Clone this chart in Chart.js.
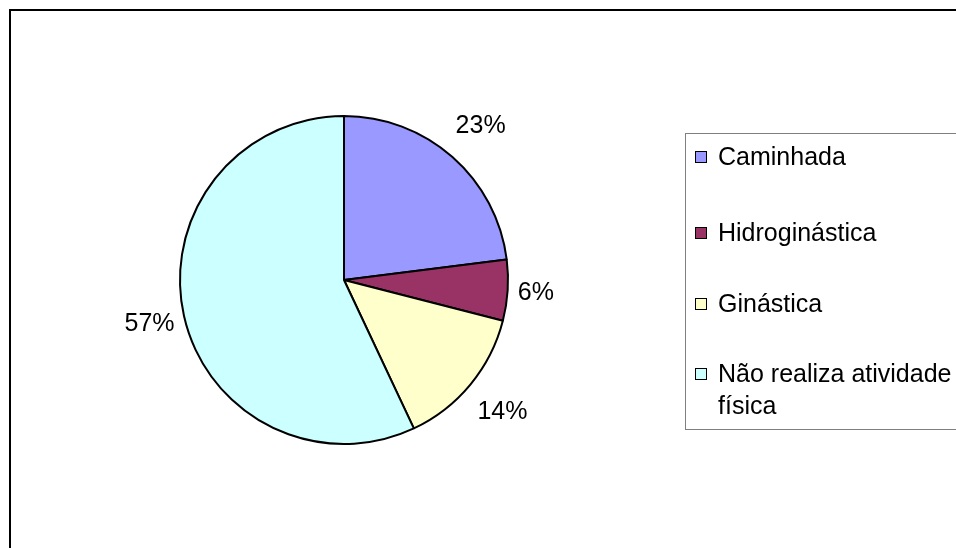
<!DOCTYPE html>
<html>
<head>
<meta charset="utf-8">
<script src="https://cdn.jsdelivr.net/npm/chart.js@4/dist/chart.umd.min.js"></script>
<style>
  html, body { margin: 0; padding: 0; background: #fff; overflow: hidden; }
  body { width: 956px; height: 548px; position: relative; font-family: "Liberation Sans", Arial, sans-serif; }
  #frame { position: absolute; left: 9px; top: 9px; width: 1000px; height: 600px; border: 2px solid #000; box-sizing: border-box; }
  #chart { position: absolute; left: 0; top: 0; }
  #legend { position: absolute; left: 685px; top: 133px; width: 320px; height: 297px; border: 1px solid #808080;
            box-sizing: border-box; padding: 6px 0 0 9px; }
  .item { display: flex; align-items: flex-start; font-size: 25px; line-height: 32px; color: #000; width: 270px; }
  .item:nth-child(1) { margin-bottom: 44px; }
  .item:nth-child(2) { margin-bottom: 39px; }
  .item:nth-child(3) { margin-bottom: 38px; }
  .box { flex: none; width: 10px; height: 10px; border: 1px solid #000; margin: 11px 11px 0 0; }
</style>
</head>
<body>
<div id="frame"></div>
<canvas id="chart" width="956" height="548"></canvas>
<div id="legend"></div>
<script>
const categories = ['Caminhada', 'Hidroginástica', 'Ginástica', 'Não realiza atividade física'];
const shares = [23, 6, 14, 57];
const sliceColors = ['#9999FF', '#993366', '#FFFFCC', '#CCFFFF'];
const percentLabels = shares.map(v => v + '%');

// percentage labels outside the pie, pushed out along the middle of each slice
const sliceLabels = {
  id: 'sliceLabels',
  afterDatasetsDraw(chart) {
    const ctx = chart.ctx;
    const meta = chart.getDatasetMeta(0);
    ctx.save();
    ctx.font = '25px "Liberation Sans", Arial, sans-serif';
    ctx.fillStyle = '#000';
    ctx.textAlign = 'center';
    ctx.textBaseline = 'middle';
    meta.data.forEach((arc, i) => {
      const p = arc.getProps(['x', 'y', 'startAngle', 'endAngle', 'outerRadius']);
      const mid = (p.startAngle + p.endAngle) / 2;
      const dx = Math.cos(mid), dy = Math.sin(mid);
      const text = percentLabels[i];
      const hw = ctx.measureText(text).width / 2;
      const d = p.outerRadius + 17 + 0.55 * hw * Math.abs(dx) + 22 * Math.abs(dy);
      ctx.fillText(text, p.x + dx * d, p.y + dy * d + 1);
    });
    ctx.restore();
  }
};

const chart = new Chart(document.getElementById('chart'), {
  type: 'pie',
  data: {
    labels: categories,
    datasets: [{
      data: shares,
      backgroundColor: sliceColors,
      borderColor: '#000',
      borderWidth: 2
    }]
  },
  options: {
    responsive: false,
    devicePixelRatio: 1,
    animation: false,
    events: [],
    radius: 164,
    layout: { padding: { left: 100, right: 368, top: 112, bottom: 100 } },
    plugins: { legend: { display: false }, tooltip: { enabled: false } }
  },
  plugins: [sliceLabels]
});

// legend box built from the same arrays
const legend = document.getElementById('legend');
categories.forEach((name, i) => {
  const item = document.createElement('div');
  item.className = 'item';
  const box = document.createElement('span');
  box.className = 'box';
  box.style.background = sliceColors[i];
  const txt = document.createElement('span');
  txt.textContent = name;
  item.appendChild(box);
  item.appendChild(txt);
  legend.appendChild(item);
});
</script>
</body>
</html>
